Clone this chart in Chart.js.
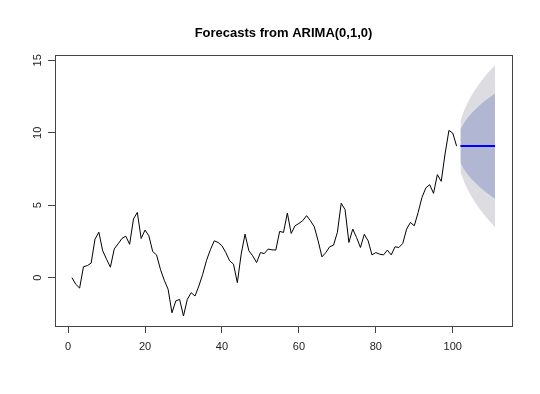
<!DOCTYPE html>
<html>
<head>
<meta charset="utf-8">
<script src="https://cdn.jsdelivr.net/npm/chart.js@4/dist/chart.umd.min.js"></script>
<style>
  body { margin: 0; background: #fff; }
</style>
</head>
<body>
<canvas id="chart" width="540" height="394"></canvas>
<script>
// observed series, t = 1..101
const series = [
  0.0, -0.46, -0.72, 0.75, 0.83, 1.0, 2.66, 3.14, 1.85, 1.27,
  0.72, 1.98, 2.33, 2.7, 2.86, 2.3, 4.05, 4.5, 2.7, 3.28,
  2.89, 1.8, 1.57, 0.58, -0.18, -0.8, -2.43, -1.61, -1.5, -2.65,
  -1.5, -1.04, -1.27, -0.58, 0.23, 1.2, 1.93, 2.54, 2.43, 2.2,
  1.73, 1.16, 0.93, -0.35, 1.62, 3.0, 1.85, 1.5, 1.04, 1.73,
  1.66, 1.97, 1.92, 1.9, 3.19, 3.12, 4.46, 3.05, 3.58, 3.74,
  3.93, 4.28, 3.93, 3.51, 2.54, 1.43, 1.73, 2.13, 2.24, 3.12,
  5.13, 4.7, 2.43, 3.35, 2.77, 2.08, 2.99, 2.54, 1.57, 1.73,
  1.62, 1.57, 1.9, 1.57, 2.13, 2.08, 2.36, 3.35, 3.81, 3.58,
  4.5, 5.54, 6.19, 6.42, 5.82, 7.11, 6.65, 8.54, 10.16, 9.98,
  9.08
];

// forecasts, t = 102..111
const forecastX = [102, 103, 104, 105, 106, 107, 108, 109, 110, 111];
const forecast = [9.08, 9.08, 9.08, 9.08, 9.08, 9.08, 9.08, 9.08, 9.08, 9.08];
const hi80 = [10.23, 10.71, 11.07, 11.38, 11.65, 11.90, 12.12, 12.33, 12.53, 12.72];
const lo80 = [7.93, 7.45, 7.09, 6.78, 6.51, 6.26, 6.04, 5.83, 5.63, 5.44];
const hi95 = [10.85, 11.58, 12.15, 12.62, 13.04, 13.42, 13.76, 14.09, 14.39, 14.68];
const lo95 = [7.31, 6.58, 6.01, 5.54, 5.12, 4.74, 4.40, 4.07, 3.77, 3.48];

const xTicks = [0, 20, 40, 60, 80, 100];
const yTicks = [0, 5, 10, 15];
const title = 'Forecasts from ARIMA(0,1,0)';

const toPoints = (xs, ys) => ys.map((y, i) => ({ x: xs[i], y: y }));
const seriesX = series.map((_, i) => i + 1);

// box, title and rotated y labels like base R graphics
const rFrame = {
  id: 'rFrame',
  afterDraw(chart) {
    const ctx = chart.ctx;
    const a = chart.chartArea;
    ctx.save();
    ctx.strokeStyle = '#444';
    ctx.lineWidth = 1;
    ctx.strokeRect(Math.round(a.left) + 0.5, Math.round(a.top) + 0.5,
      Math.round(a.right - a.left), Math.round(a.bottom - a.top));

    ctx.fillStyle = '#000';
    ctx.font = 'bold 13px "Liberation Sans", Arial, sans-serif';
    ctx.textAlign = 'center';
    ctx.textBaseline = 'middle';
    ctx.fillText(title, (a.left + a.right) / 2, 33);

    const ys = chart.scales.y;
    ctx.font = '11px "Liberation Sans", Arial, sans-serif';
    ctx.fillStyle = '#222';
    yTicks.forEach(v => {
      const py = ys.getPixelForValue(v);
      ctx.save();
      ctx.translate(38, py);
      ctx.rotate(-Math.PI / 2);
      ctx.fillText(String(v), 0, 0);
      ctx.restore();
    });
    ctx.restore();
  }
};

new Chart(document.getElementById('chart'), {
  type: 'line',
  data: {
    datasets: [
      { data: toPoints(seriesX, series), borderColor: '#000', borderWidth: 1, fill: false, order: 0 },
      { data: toPoints(forecastX, forecast), borderColor: '#0000ff', borderWidth: 2, fill: false, order: 1 },
      { data: toPoints(forecastX, hi80), borderWidth: 0, borderColor: 'rgba(0,0,0,0)', backgroundColor: '#b1b6d2', fill: 3, order: 2 },
      { data: toPoints(forecastX, lo80), borderWidth: 0, borderColor: 'rgba(0,0,0,0)', fill: false, order: 3 },
      { data: toPoints(forecastX, hi95), borderWidth: 0, borderColor: 'rgba(0,0,0,0)', backgroundColor: '#dcdce1', fill: 5, order: 4 },
      { data: toPoints(forecastX, lo95), borderWidth: 0, borderColor: 'rgba(0,0,0,0)', fill: false, order: 5 }
    ]
  },
  options: {
    responsive: false,
    animation: false,
    layout: { padding: { top: 55, right: 28, left: 0, bottom: 0 } },
    elements: { point: { radius: 0 }, line: { tension: 0 } },
    plugins: { legend: { display: false }, tooltip: { enabled: false }, title: { display: false } },
    scales: {
      x: {
        type: 'linear',
        min: -3.4,
        max: 115.4,
        afterBuildTicks: s => { s.ticks = xTicks.map(v => ({ value: v })); },
        afterFit: s => { s.height = 68; },
        border: { display: false },
        grid: { display: true, drawOnChartArea: false, drawTicks: true, tickLength: 7, color: '#444' },
        ticks: { color: '#222', padding: 7, font: { family: '"Liberation Sans", Arial, sans-serif', size: 11 }, maxRotation: 0 }
      },
      y: {
        type: 'linear',
        min: -3.34,
        max: 15.37,
        afterBuildTicks: s => { s.ticks = yTicks.map(v => ({ value: v })); },
        afterFit: s => { s.width = 55; },
        border: { display: false },
        grid: { display: true, drawOnChartArea: false, drawTicks: true, tickLength: 7, color: '#444' },
        ticks: { display: false }
      }
    }
  },
  plugins: [rFrame]
});
</script>
</body>
</html>
